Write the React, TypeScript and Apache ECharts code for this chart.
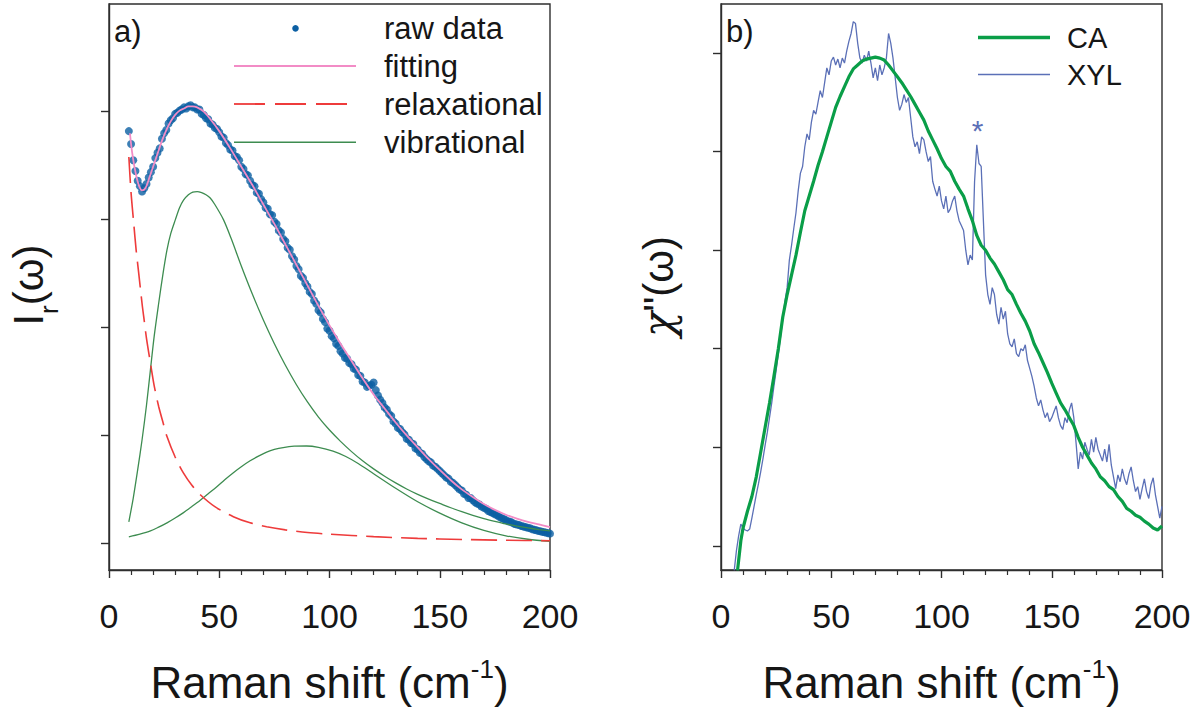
import React, { useEffect, useRef } from "react";
import * as echarts from "echarts";

const FONT = "'Liberation Sans', Arial, Helvetica, sans-serif";
const SERIF = "'DejaVu Serif', 'Liberation Serif', serif";
const TEXT = "#161616";
const FRAME = "#2e2e2e";

// ---------- Panel a) : I_r(omega) ----------
// raw data: one sample per cm-1 starting at 9 cm-1
const rawShiftStart = 9;
const rawIntensity = [
  3.82, 3.70, 3.55, 3.45, 3.36, 3.31, 3.26, 3.29, 3.33, 3.39,
  3.44, 3.49, 3.57, 3.62, 3.66, 3.75, 3.80, 3.83, 3.89, 3.92,
  3.94, 3.98, 3.99, 4.01, 4.02, 4.04, 4.03, 4.05, 4.06, 4.04,
  4.04, 4.02, 4.02, 3.98, 3.97, 3.94, 3.93, 3.89, 3.88, 3.85,
  3.84, 3.81, 3.77, 3.76, 3.71, 3.69, 3.65, 3.64, 3.59, 3.58,
  3.55, 3.49, 3.47, 3.42, 3.41, 3.36, 3.32, 3.31, 3.25, 3.24,
  3.19, 3.16, 3.11, 3.10, 3.05, 3.04, 2.98, 2.96, 2.90, 2.88,
  2.82, 2.80, 2.74, 2.72, 2.66, 2.63, 2.57, 2.54, 2.48, 2.46,
  2.41, 2.38, 2.33, 2.31, 2.25, 2.22, 2.16, 2.14, 2.08, 2.05,
  1.99, 1.97, 1.92, 1.90, 1.85, 1.83, 1.78, 1.76, 1.72, 1.71,
  1.67, 1.66, 1.62, 1.61, 1.56, 1.55, 1.50, 1.49, 1.45, 1.46,
  1.47, 1.49, 1.42, 1.37, 1.33, 1.30, 1.26, 1.24, 1.20, 1.18,
  1.13, 1.11, 1.07, 1.06, 1.03, 1.01, 0.97, 0.96, 0.93, 0.92,
  0.88, 0.87, 0.84, 0.83, 0.80, 0.78, 0.76, 0.75, 0.72, 0.71,
  0.69, 0.67, 0.65, 0.63, 0.61, 0.60, 0.57, 0.56, 0.54, 0.52,
  0.50, 0.49, 0.46, 0.45, 0.42, 0.42, 0.40, 0.38, 0.37, 0.36,
  0.34, 0.33, 0.32, 0.30, 0.29, 0.28, 0.27, 0.26, 0.245, 0.235,
  0.225, 0.215, 0.205, 0.20, 0.19, 0.18, 0.175, 0.17, 0.16, 0.155,
  0.15, 0.145, 0.14, 0.13, 0.125, 0.12, 0.115, 0.11, 0.105, 0.10,
  0.095, 0.09,
];

const fitShift = [
  9.5, 10.5, 12, 13.5, 15, 16.5, 18, 20, 22, 24, 26, 28, 30, 32, 34, 36, 38, 40,
  43, 46, 50, 55, 60, 65, 70, 75, 80, 85, 90, 95, 100, 105, 110, 115, 120, 125,
  130, 135, 140, 145, 150, 155, 160, 165, 170, 175, 180, 185, 190, 195, 200,
];
const fitIntensity = [
  3.80, 3.62, 3.44, 3.32, 3.27, 3.29, 3.37, 3.49, 3.61, 3.73, 3.83, 3.91, 3.97,
  4.01, 4.03, 4.05, 4.05, 4.04, 4.00, 3.93, 3.82, 3.66, 3.49, 3.32, 3.14, 2.96,
  2.77, 2.58, 2.39, 2.20, 2.02, 1.85, 1.69, 1.53, 1.38, 1.25, 1.12, 1.00, 0.89,
  0.78, 0.68, 0.585, 0.50, 0.43, 0.365, 0.31, 0.265, 0.23, 0.20, 0.175, 0.15,
];

const relaxShift = [
  9, 10, 11.2, 12.3, 13.5, 15, 16, 17, 18.8, 20.5, 22.5, 24.5, 26.3, 30, 33.8,
  37.5, 41.4, 48, 56.4, 64, 71.5, 80, 90, 100, 120, 140, 160, 180, 200,
];
const relaxIntensity = [
  3.58, 3.25, 2.97, 2.72, 2.50, 2.22, 2.06, 1.90, 1.67, 1.46, 1.27, 1.12, 0.99,
  0.80, 0.65, 0.54, 0.45, 0.34, 0.247, 0.19, 0.154, 0.125, 0.10, 0.085, 0.062,
  0.046, 0.036, 0.029, 0.024,
];

const vib1Shift = [
  9, 11, 13, 15, 17, 18.8, 20.5, 22.5, 24.5, 26.3, 28, 30.1, 32, 33.8, 36, 38,
  40, 42, 44, 45.9, 48, 51.9, 55.5, 60, 65, 70, 75, 80, 85, 90, 95, 100, 105,
  110, 115, 120, 125, 130, 135, 140, 145, 150, 155, 160, 165, 170, 175, 180,
  185, 190, 195, 200,
];
const vib1Intensity = [
  0.20, 0.42, 0.68, 0.96, 1.28, 1.61, 1.92, 2.22, 2.50, 2.72, 2.87, 3.00, 3.11,
  3.18, 3.23, 3.255, 3.26, 3.25, 3.23, 3.20, 3.14, 3.00, 2.82, 2.57, 2.31, 2.07,
  1.85, 1.65, 1.47, 1.31, 1.17, 1.05, 0.945, 0.85, 0.765, 0.69, 0.622, 0.56,
  0.504, 0.454, 0.41, 0.37, 0.33, 0.293, 0.26, 0.23, 0.204, 0.18, 0.16, 0.143,
  0.128, 0.115,
];

const vib2Shift = [
  9, 14, 18.8, 22.5, 26.3, 30, 33.8, 37.5, 41.4, 45, 48.9, 52.5, 56.4, 60, 64,
  68, 71.5, 75, 79, 84, 89.6, 95, 101.6, 107.4, 113, 120, 130, 140, 150, 160,
  170, 180, 190, 200,
];
const vib2Intensity = [
  0.06, 0.085, 0.115, 0.15, 0.19, 0.235, 0.285, 0.34, 0.40, 0.46, 0.525, 0.59,
  0.655, 0.71, 0.765, 0.81, 0.845, 0.87, 0.888, 0.90, 0.902, 0.89, 0.855,
  0.805, 0.74, 0.645, 0.51, 0.385, 0.28, 0.19, 0.12, 0.07, 0.038, 0.018,
];

// ---------- Panel b) : chi''(omega) ----------
const caShift = [
  7.5, 8, 9, 10, 12, 14, 16, 18, 20, 22, 24, 26, 28, 30, 32, 34, 36, 38, 40, 42,
  44, 46, 48, 50, 52, 54, 56, 58, 60, 62, 64, 66, 68, 70, 72, 74, 76, 78, 80, 82,
  84, 86, 88, 90, 92, 94, 96, 98, 100, 102, 104, 106, 108, 110, 112, 114, 116,
  118, 120, 122, 124, 126, 128, 130, 132, 134, 136, 138, 140, 142, 144, 146,
  148, 150, 152, 154, 156, 158, 160, 162, 164, 166, 168, 170, 172, 174, 176,
  178, 180, 182, 184, 186, 188, 190, 192, 194, 196, 198, 200,
];
const caChi = [
  -0.25, -0.15, 0.05, 0.18, 0.35, 0.50, 0.70, 0.95, 1.20, 1.45, 1.72, 2.00, 2.32,
  2.55, 2.75, 2.95, 3.18, 3.40, 3.55, 3.70, 3.86, 4.00, 4.15, 4.30, 4.45, 4.56,
  4.66, 4.76, 4.84, 4.88, 4.92, 4.94, 4.95, 4.96, 4.95, 4.93, 4.88, 4.82, 4.76,
  4.70, 4.63, 4.56, 4.48, 4.40, 4.32, 4.21, 4.12, 4.03, 3.93, 3.85, 3.80, 3.70,
  3.62, 3.55, 3.42, 3.30, 3.15, 3.05, 3.00, 2.92, 2.86, 2.78, 2.70, 2.60, 2.55,
  2.45, 2.36, 2.28, 2.18, 2.05, 1.96, 1.86, 1.76, 1.65, 1.55, 1.45, 1.38, 1.30,
  1.22, 1.10, 1.00, 0.92, 0.84, 0.78, 0.70, 0.66, 0.60, 0.57, 0.50, 0.45, 0.38,
  0.35, 0.31, 0.29, 0.25, 0.22, 0.18, 0.16, 0.20,
];

// XYL: one sample per cm-1 starting at 6 cm-1
const xylShiftStart = 6;
const xylChi = [
  -0.25, -0.05, 0.10, 0.22, 0.18, 0.16, 0.15, 0.17, 0.28, 0.40,
  0.52, 0.63, 0.75, 0.88, 1.02, 1.15, 1.30, 1.45, 1.62, 1.78,
  1.95, 2.12, 2.30, 2.48, 2.62, 2.90, 3.05, 3.22, 3.38, 3.60,
  3.78, 3.85, 4.05, 4.18, 4.12, 4.30, 4.42, 4.38, 4.50, 4.62,
  4.55, 4.70, 4.85, 4.78, 4.92, 4.96, 4.88, 4.94, 4.85, 4.95,
  4.90, 5.02, 5.12, 5.20, 5.32, 5.30, 5.10, 4.95, 4.90, 4.98,
  4.92, 5.02, 4.90, 4.75, 4.85, 4.72, 4.88, 4.78, 4.85, 4.95,
  5.20, 5.10, 4.95, 4.75, 4.55, 4.42, 4.48, 4.58, 4.50, 4.55,
  4.35, 4.15, 4.05, 4.10, 3.98, 4.15, 4.12, 4.00, 3.90, 3.95,
  3.70, 3.62, 3.55, 3.65, 3.50, 3.42, 3.55, 3.38, 3.42, 3.50,
  3.55, 3.40, 3.30, 3.25, 3.20, 3.00, 2.85, 2.95, 2.90, 3.70,
  4.07, 3.88, 3.85, 3.30, 2.75, 2.55, 2.45, 2.62, 2.55, 2.35,
  2.25, 2.42, 2.30, 2.38, 2.15, 2.05, 2.02, 2.10, 1.95, 1.92,
  2.00, 1.98, 2.04, 1.88, 1.80, 1.72, 1.62, 1.50, 1.42, 1.48,
  1.38, 1.30, 1.35, 1.26, 1.30, 1.36, 1.42, 1.30, 1.22, 1.18,
  1.30, 1.25, 1.38, 1.45, 1.30, 1.05, 0.78, 0.95, 0.88, 1.05,
  0.98, 0.92, 1.08, 0.95, 1.10, 0.98, 0.92, 0.86, 0.98, 0.85,
  1.03, 0.82, 0.70, 0.58, 0.72, 0.65, 0.78, 0.68, 0.62, 0.73,
  0.80, 0.66, 0.55, 0.60, 0.47, 0.58, 0.68, 0.55, 0.48, 0.62,
  0.69, 0.52, 0.40, 0.28, 0.40,
];

// ---------- axes / labels ----------
const xRange = [0, 200];
const xInterval = 50;
const yTicksA = [0, 1, 2, 3, 4];
const yRangeA = [-0.247, 4.998];
const yTicksB = [0, 1, 2, 3, 4, 5];
const yRangeB = [-0.246, 5.499];
const legendA = ["raw data", "fitting", "relaxational", "vibrational"];
const legendB = ["CA", "XYL"];
const panelTags = ["a)", "b)"];

const C_RAW = "#0b5fa3";
const C_FIT = "#f28cc6";
const C_REL = "#ee3b3b";
const C_VIB = "#3d8c50";
const C_CA = "#0a9e48";
const C_XYL = "#5b70b7";

const zip = (xs: number[], ys: number[]) => xs.map((x, i) => [x, ys[i]]);

function xAxisCfg(gridIndex: number) {
  return {
    type: "value",
    gridIndex,
    min: xRange[0],
    max: xRange[1],
    interval: xInterval,
    axisLine: { show: true, onZero: false, lineStyle: { color: FRAME, width: 1.4 } },
    axisTick: { show: true, inside: false, length: 8, lineStyle: { color: FRAME, width: 1.4 } },
    minorTick: { show: true, splitNumber: 5, length: 5, lineStyle: { color: FRAME, width: 1.2 } },
    axisLabel: {
      show: true,
      margin: 29,
      fontSize: 34,
      color: TEXT,
      fontFamily: FONT,
      showMinLabel: true,
      showMaxLabel: true,
    },
    splitLine: { show: false },
    minorSplitLine: { show: false },
  };
}

function yAxisCfg(gridIndex: number, range: number[], ticks: number[]) {
  return {
    type: "value",
    gridIndex,
    min: range[0],
    max: range[1],
    axisLine: { show: true, onZero: false, lineStyle: { color: FRAME, width: 1.4 } },
    axisTick: {
      show: true,
      inside: false,
      length: 8,
      customValues: ticks,
      lineStyle: { color: FRAME, width: 1.4 },
    },
    axisLabel: { show: false },
    splitLine: { show: false },
  };
}

export default function App() {
  const ref = useRef<HTMLDivElement>(null);

  useEffect(() => {
    if (!ref.current) return;
    const chart = echarts.init(ref.current, undefined, { renderer: "svg" });

    const lineRow = (y: number, stroke: string, width: number, dash?: number[]) => ({
      type: "line",
      shape: { x1: 234, y1: y, x2: 356, y2: y },
      style: { stroke, lineWidth: width, lineDash: dash },
    });
    const txt = (x: number, y: number, text: string, size: number, extra: any = {}) => ({
      type: "text",
      x,
      y,
      style: {
        text,
        fontSize: size,
        fontFamily: FONT,
        fill: TEXT,
        align: "left",
        verticalAlign: "middle",
        ...extra,
      },
    });

    const option: any = {
      animation: false,
      backgroundColor: "#ffffff",
      grid: [
        { left: 109, top: 4, width: 441, height: 566, show: true, borderColor: FRAME, borderWidth: 1.4, backgroundColor: "transparent" },
        { left: 721, top: 4, width: 441, height: 566, show: true, borderColor: FRAME, borderWidth: 1.4, backgroundColor: "transparent" },
      ],
      xAxis: [xAxisCfg(0), xAxisCfg(1)],
      yAxis: [yAxisCfg(0, yRangeA, yTicksA), yAxisCfg(1, yRangeB, yTicksB)],
      series: [
        {
          name: "vibrational",
          type: "line",
          xAxisIndex: 0,
          yAxisIndex: 0,
          data: zip(vib1Shift, vib1Intensity),
          smooth: 0.3,
          showSymbol: false,
          lineStyle: { color: C_VIB, width: 1.3 },
        },
        {
          name: "vibrational 2",
          type: "line",
          xAxisIndex: 0,
          yAxisIndex: 0,
          data: zip(vib2Shift, vib2Intensity),
          smooth: 0.3,
          showSymbol: false,
          lineStyle: { color: C_VIB, width: 1.3 },
        },
        {
          name: "relaxational",
          type: "line",
          xAxisIndex: 0,
          yAxisIndex: 0,
          data: zip(relaxShift, relaxIntensity),
          smooth: 0.3,
          showSymbol: false,
          lineStyle: { color: C_REL, width: 1.6, type: [26, 9] },
        },
        {
          name: "raw data",
          type: "scatter",
          xAxisIndex: 0,
          yAxisIndex: 0,
          data: rawIntensity.map((v, i) => [rawShiftStart + i, v]),
          symbol: "circle",
          symbolSize: 8,
          itemStyle: { color: C_RAW },
        },
        {
          name: "fitting",
          type: "line",
          xAxisIndex: 0,
          yAxisIndex: 0,
          data: zip(fitShift, fitIntensity),
          smooth: 0.3,
          showSymbol: false,
          lineStyle: { color: C_FIT, width: 1.8 },
        },
        {
          name: "XYL",
          type: "line",
          xAxisIndex: 1,
          yAxisIndex: 1,
          data: xylChi.map((v, i) => [xylShiftStart + i, v]),
          showSymbol: false,
          lineStyle: { color: C_XYL, width: 1.3 },
        },
        {
          name: "CA",
          type: "line",
          xAxisIndex: 1,
          yAxisIndex: 1,
          data: zip(caShift, caChi),
          showSymbol: false,
          lineStyle: { color: C_CA, width: 3.2 },
        },
      ],
      graphic: [
        // legend a)
        { type: "circle", shape: { cx: 295.5, cy: 28.3, r: 3.3 }, style: { fill: C_RAW } },
        lineRow(66, C_FIT, 2),
        lineRow(104, C_REL, 1.8, [31, 10]),
        lineRow(142.3, C_VIB, 1.5),
        txt(384, 28.3, legendA[0], 31),
        txt(384, 66, legendA[1], 31),
        txt(384, 104, legendA[2], 31),
        txt(384, 142.3, legendA[3], 31),
        // legend b)
        { type: "line", shape: { x1: 978, y1: 37.5, x2: 1050, y2: 37.5 }, style: { stroke: C_CA, lineWidth: 3.5 } },
        { type: "line", shape: { x1: 978, y1: 74.5, x2: 1050, y2: 74.5 }, style: { stroke: C_XYL, lineWidth: 1.5 } },
        txt(1067, 37.5, legendB[0], 29),
        txt(1067, 74.5, legendB[1], 29),
        // panel tags
        txt(114, 31, panelTags[0], 31),
        txt(726, 31, panelTags[1], 31),
        // asterisk
        txt(977.5, 130, "*", 30, { align: "center", fill: C_XYL }),
        // x axis titles
        ...[329.5, 941.5].map((cx) => ({
          type: "text",
          x: cx,
          y: 682.4,
          style: {
            text: "{m|Raman shift (cm}{s|-1}{m|)}",
            align: "center",
            verticalAlign: "middle",
            fill: TEXT,
            rich: {
              m: { fontSize: 44, lineHeight: 53, fontFamily: FONT, fill: TEXT },
              s: { fontSize: 26, lineHeight: 26, fontFamily: FONT, fill: TEXT, verticalAlign: "top" },
            },
          },
        })),
        // y axis titles
        {
          type: "text",
          x: 28.6,
          y: 285,
          rotation: Math.PI / 2,
          style: {
            text: "{m|I}{s|r}{m|(ω)}",
            align: "center",
            verticalAlign: "middle",
            fill: TEXT,
            rich: {
              m: { fontSize: 42, lineHeight: 67, fontFamily: FONT, fill: TEXT },
              s: { fontSize: 26, lineHeight: 26, fontFamily: FONT, fill: TEXT, verticalAlign: "bottom" },
            },
          },
        },
        {
          type: "text",
          x: 658.4,
          y: 286.5,
          rotation: Math.PI / 2,
          style: {
            text: "{c|χ}{m|\"(ω)}",
            align: "center",
            verticalAlign: "middle",
            fill: TEXT,
            rich: {
              c: { fontSize: 42, lineHeight: 46, fontFamily: SERIF, fontStyle: "italic", fill: TEXT },
              m: { fontSize: 42, lineHeight: 46, fontFamily: FONT, fill: TEXT },
            },
          },
        },
      ],
    };

    chart.setOption(option);
    return () => chart.dispose();
  }, []);

  return (
    <div
      ref={ref}
      style={{ position: "absolute", left: 0, top: 0, width: 1204, height: 713, background: "#fff" }}
    />
  );
}
